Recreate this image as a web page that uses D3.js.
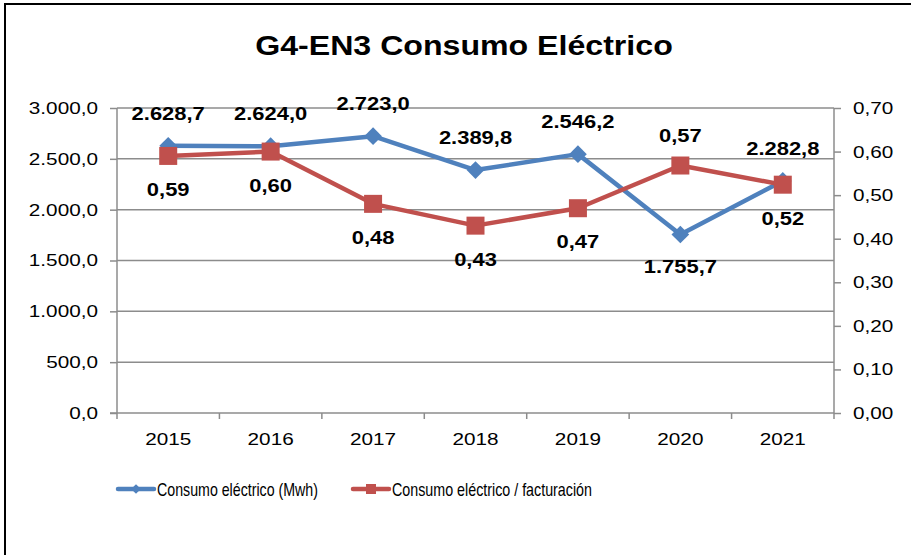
<!DOCTYPE html>
<html>
<head>
<meta charset="utf-8">
<script src="https://cdn.jsdelivr.net/npm/d3@7"></script>
<style>
  body { margin: 0; background: #fff; }
  svg { font-family: "Liberation Sans", Arial, sans-serif; }
</style>
</head>
<body>
<div class="chart"></div>
<script>
// data
var years = ["2015", "2016", "2017", "2018", "2019", "2020", "2021"];
var consumo = [2628.7, 2624.0, 2723.0, 2389.8, 2546.2, 1755.7, 2282.8];
var ratio = [0.59, 0.60, 0.48, 0.43, 0.47, 0.568, 0.524];
var leftTicks = [0, 500, 1000, 1500, 2000, 2500, 3000];
var rightTicks = [0, 0.1, 0.2, 0.3, 0.4, 0.5, 0.6, 0.7];
var seriesNames = ["Consumo eléctrico (Mwh)", "Consumo eléctrico / facturación"];

var svgWidth = 911;
var svgHeight = 555;
var margin = { top: 108, right: 77, bottom: 142, left: 117 };
var width = svgWidth - margin.left - margin.right;
var height = svgHeight - margin.top - margin.bottom;

var blue = "#4F81BD";
var red = "#C0504D";
var grid = "#8c8c8c";
var stretch = 1.22; // the original text is drawn wide

var es = d3.formatLocale({ decimal: ",", thousands: ".", grouping: [3], currency: ["", ""] });
var fmtLeft = es.format(",.1f");
var fmtRight = es.format(".2f");

// draws a text widened around its anchor point
function wideText(parent, px, py, k) {
  return parent.append("text")
    .attr("transform", `translate(${px}, ${py}) scale(${k}, 1)`);
}

var svg = d3.select(".chart").append("svg")
  .attr("width", svgWidth)
  .attr("height", svgHeight);

// outer frame (right/bottom edges fall outside the picture)
svg.append("rect")
  .attr("x", 5).attr("y", 4)
  .attr("width", 960).attr("height", 600)
  .attr("fill", "none")
  .attr("stroke", "#000")
  .attr("stroke-width", 2);

wideText(svg, 464, 55, 1.19)
  .attr("text-anchor", "middle")
  .attr("font-size", "27px")
  .attr("font-weight", "bold")
  .text("G4-EN3 Consumo Eléctrico");

var chartGroup = svg.append("g")
  .attr("transform", `translate(${margin.left}, ${margin.top})`);

var x = d3.scaleBand().domain(years).range([0, width]).padding(0);
var yLeft = d3.scaleLinear().domain([0, 3000]).range([height, 0]);
var yRight = d3.scaleLinear().domain([0, 0.7]).range([height, 0]);
var cx = d => x(d) + x.bandwidth() / 2;

// gridlines
chartGroup.append("g")
  .selectAll("line")
  .data(leftTicks.slice(1))
  .enter()
  .append("line")
  .attr("x1", 0).attr("x2", width)
  .attr("y1", d => yLeft(d)).attr("y2", d => yLeft(d))
  .attr("stroke", grid)
  .attr("stroke-width", 1.5);

// left axis
var leftAxis = d3.axisLeft(yLeft).tickValues(leftTicks).tickFormat(fmtLeft).tickSizeOuter(0).tickSize(7).tickPadding(12);
var gl = chartGroup.append("g").call(leftAxis);

// right axis
var rightAxis = d3.axisRight(yRight).tickValues(rightTicks).tickFormat(fmtRight).tickSizeOuter(0).tickSize(7).tickPadding(12);
var gr = chartGroup.append("g").attr("transform", `translate(${width}, 0)`).call(rightAxis);

// bottom axis with ticks between categories
var bottomAxis = d3.axisBottom(x).tickSize(0).tickPadding(20);
var gb = chartGroup.append("g").attr("transform", `translate(0, ${height})`).call(bottomAxis);
gb.selectAll(".catTick")
  .data(years.map(d => x(d)).concat([width]))
  .enter()
  .append("line")
  .attr("class", "catTick")
  .attr("x1", d => d).attr("x2", d => d)
  .attr("y1", 0).attr("y2", 6);

[gl, gr, gb].forEach(function(g) {
  g.selectAll("path, line").attr("stroke", grid).attr("stroke-width", 1.5);
  g.selectAll(".tick text")
    .attr("font-size", "17px")
    .attr("fill", "#000")
    .attr("x", function() { return (+d3.select(this).attr("x") || 0) / stretch; })
    .attr("transform", `scale(${stretch}, 1)`);
});
gl.select(".domain").attr("d", `M0,0V${height}`);
gr.select(".domain").attr("d", `M0,0V${height}`);
gb.select(".domain").attr("d", `M-7,0H${width}`);

// lines
var lineLeft = d3.line().x((d, i) => cx(years[i])).y(d => yLeft(d));
var lineRight = d3.line().x((d, i) => cx(years[i])).y(d => yRight(d));

chartGroup.append("path")
  .datum(consumo)
  .attr("d", lineLeft)
  .attr("fill", "none")
  .attr("stroke", blue)
  .attr("stroke-width", 4.5)
  .attr("stroke-linejoin", "round");

chartGroup.append("path")
  .datum(ratio)
  .attr("d", lineRight)
  .attr("fill", "none")
  .attr("stroke", red)
  .attr("stroke-width", 4.5)
  .attr("stroke-linejoin", "round");

var diamond = d3.symbol().type(d3.symbolDiamond2).size(200);
chartGroup.selectAll(".diamond")
  .data(consumo)
  .enter()
  .append("path")
  .attr("class", "diamond")
  .attr("d", diamond)
  .attr("transform", (d, i) => `translate(${cx(years[i])}, ${yLeft(d)})`)
  .attr("fill", blue);

chartGroup.selectAll(".square")
  .data(ratio)
  .enter()
  .append("rect")
  .attr("class", "square")
  .attr("x", (d, i) => cx(years[i]) - 9)
  .attr("y", d => yRight(d) - 9)
  .attr("width", 18).attr("height", 18)
  .attr("fill", red);

// data labels: upper series labelled above, lower series below
consumo.forEach(function(d, i) {
  var py = yLeft(d) <= yRight(ratio[i]) ? yLeft(d) - 26 : yLeft(d) + 38;
  wideText(chartGroup, cx(years[i]), py, stretch)
    .attr("text-anchor", "middle")
    .attr("font-size", "18px")
    .attr("font-weight", "bold")
    .text(fmtLeft(d));
});

ratio.forEach(function(d, i) {
  var py = yRight(d) < yLeft(consumo[i]) ? yRight(d) - 24 : yRight(d) + 40;
  wideText(chartGroup, cx(years[i]), py, stretch)
    .attr("text-anchor", "middle")
    .attr("font-size", "18px")
    .attr("font-weight", "bold")
    .text(fmtRight(d));
});

// legend
var legend = svg.append("g").attr("transform", "translate(0, 489)");
var legendItems = [
  { name: seriesNames[0], color: blue, x: 118, len: 161, marker: "diamond" },
  { name: seriesNames[1], color: red, x: 353, len: 200, marker: "square" }
];
legendItems.forEach(function(item) {
  legend.append("line")
    .attr("x1", item.x).attr("x2", item.x + 36)
    .attr("y1", 0).attr("y2", 0)
    .attr("stroke", item.color)
    .attr("stroke-width", 4.5)
    .attr("stroke-linecap", "round");
  if (item.marker === "diamond") {
    legend.append("path")
      .attr("d", d3.symbol().type(d3.symbolDiamond2).size(60))
      .attr("transform", `translate(${item.x + 18}, 0)`)
      .attr("fill", item.color);
  } else {
    legend.append("rect")
      .attr("x", item.x + 13).attr("y", -5)
      .attr("width", 10).attr("height", 10)
      .attr("fill", item.color);
  }
  legend.append("text")
    .attr("x", item.x + 39).attr("y", 7)
    .attr("font-size", "19px")
    .attr("textLength", item.len)
    .attr("lengthAdjust", "spacingAndGlyphs")
    .text(item.name);
});
</script>
</body>
</html>
